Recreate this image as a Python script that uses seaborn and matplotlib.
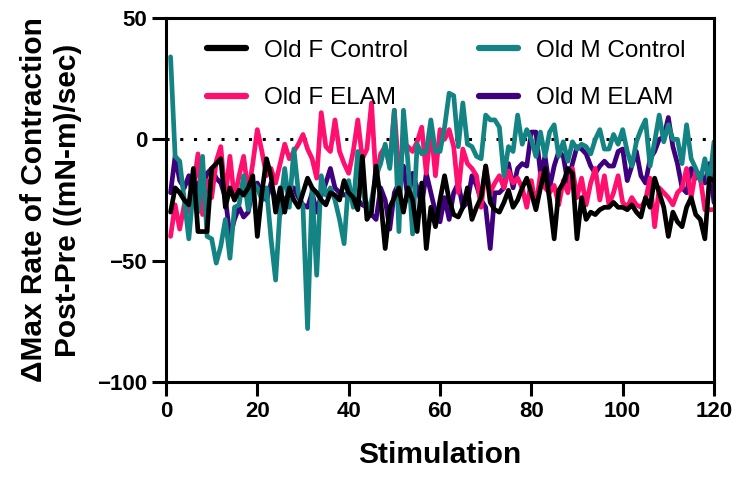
import pandas as pd
import matplotlib
matplotlib.use('Agg')
import matplotlib.pyplot as plt
import numpy as np
import seaborn as sns

stim = list(range(1, 121))

old_f_control = [-30, -20, -22, -25, -27, -12, -38, -38, -38, -12,
                 -10, -8, -28, -20, -25, -21, -23, -20, -15, -40,
                 -22, -8, -15, -30, -20, -30, -20, -25, -28, -22,
                 -16, -20, -22, -25, -27, -22, -23, -25, -17, -22,
                 -24, -29, -7, -33, -30, -11, -25, -45, -28, -24,
                 -20, -30, -20, -25, -38, -18, -45, -28, -36, -25,
                 -15, -25, -31, -32, -28, -20, -33, -28, -24, -11,
                 -26, -29, -30, -26, -21, -28, -25, -20, -16, -22,
                 -29, -20, -12, -25, -41, -21, -18, -12, -14, -41,
                 -24, -33, -30, -31, -29, -28, -28, -26, -28, -28,
                 -29, -27, -30, -32, -24, -28, -16, -22, -28, -40,
                 -30, -34, -36, -28, -24, -31, -33, -41, -16, -17]

old_f_elam = [-40, -27, -37, -27, -30, -20, -6, -31, -17, -24,
              -9, -3, -24, -7, -25, -15, -7, -22, -10, 4,
              -5, -15, -12, -18, -10, -2, -8, -5, -2, 2,
              -4, -8, -16, 11, -3, -5, 8, -5, -10, -14,
              -5, 8, -8, -4, 15, -17, -6, -3, -11, 12,
              -14, -2, -3, -5, -1, 5, -14, 5, -15, 4,
              0, 4, -3, -22, -4, -10, -12, -15, -28, -11,
              -22, -18, -15, -20, -13, -18, -16, -20, -28, -17,
              -28, -14, -20, -22, -19, -27, -17, -22, -12, -24,
              -16, -27, -18, -12, -25, -15, -27, -22, -15, -26,
              -28, -24, -27, -28, -25, -16, -36, -20, -22, -24,
              -27, -22, -20, -12, -24, -13, -16, -29, -29, -29]

old_m_control = [34, -7, -9, -25, -41, -20, -30, -7, -40, -41,
                 -51, -44, -33, -49, -28, -27, -15, -29, -18, -20,
                 -25, -20, -41, -58, -28, -12, -28, -4, -22, -28,
                 -78, -20, -56, -15, -23, -20, -25, -33, -43, -17,
                 -28, -5, -20, -30, -25, -15, -10, -2, -12, 12,
                 -38, 12, -10, -39, -2, -6, -5, 8, -5, -5,
                 5, 19, 18, -3, 15, -2, -3, -7, -8, 10,
                 8, 8, 5, -15, -3, -5, 10, -2, 4, 0,
                 -7, 3, -7, 3, 6, -7, -1, -9, -1, -4,
                 -2, -3, -6, 0, 4, -4, -4, 2, -2, 4,
                 -5, -11, -1, 4, 8, -11, -1, 10, -1, 6,
                 0, 0, -10, 6, -8, -12, -17, -8, -18, -1]

old_m_elam = [-22, -7, -17, -20, -15, -25, -18, -20, -14, -12,
              -16, -18, -24, -40, -33, -28, -32, -30, -20, -18,
              -22, -25, -18, -25, -31, -25, -22, -20, -24, -27,
              -28, -22, -30, -23, -18, -12, -20, -22, -23, -22,
              -24, -25, -27, -28, -31, -33, -20, -25, -37, -22,
              -18, -11, -25, -14, -20, -27, -14, -22, -30, -34,
              -24, -33, -22, -18, -28, -26, -15, -19, -25, -28,
              -45, -22, -22, -20, -10, -20, -12, -10, -11, 3,
              3, -14, -7, -20, -11, -5, -7, -18, -10, -3,
              -4, -6, -11, -14, -11, -9, -11, -11, -5, -4,
              -17, -11, -5, -15, -18, -8, -5, 0, 1, 9,
              -3, -10, -20, -22, -12, -16, -14, -18, -10, -26]

names = ['Old F Control', 'Old F ELAM', 'Old M Control', 'Old M ELAM']
colors = {'Old F Control': '#000000', 'Old F ELAM': '#FF0F6E',
          'Old M Control': '#138483', 'Old M ELAM': '#3F007D'}

df = pd.DataFrame({'Stimulation': stim * 4,
                   'value': old_f_control + old_f_elam + old_m_control + old_m_elam,
                   'group': [n for n in names for _ in stim]})

sns.set_style('ticks')
plt.rcParams['font.family'] = ['Liberation Sans', 'DejaVu Sans']

fig = plt.figure(figsize=(7.53, 4.8), dpi=100)
ax = fig.add_axes([166/753, 1-382/480, 548/753, 364/480])

ax.axhline(0, color='black', linestyle=(0, (1, 3.5)), linewidth=2.2, zorder=1)

draw_order = ['Old M ELAM', 'Old F ELAM', 'Old M Control', 'Old F Control']
sns.lineplot(data=df, x='Stimulation', y='value', hue='group', hue_order=draw_order,
             palette=colors, linewidth=3.4, ax=ax, legend=False, zorder=2)

ax.set_xlim(0, 120)
ax.set_ylim(-100, 50)
ax.set_xticks([0, 20, 40, 60, 80, 100, 120])
ax.set_yticks([-100, -50, 0, 50])
ax.set_xlabel('Stimulation', fontsize=21.5, fontweight='bold', color='black', labelpad=14)
ax.set_ylabel('ΔMax Rate of Contraction\nPost-Pre ((mN-m)/sec)', fontsize=21.5,
              fontweight='bold', linespacing=1.25, color='black', labelpad=11)
for lab in ax.get_xticklabels() + ax.get_yticklabels():
    lab.set_fontweight('bold')
ax.tick_params(labelsize=16, width=2.2, length=10, color='black', labelcolor='black',
               direction='out')
for s in ax.spines.values():
    s.set_linewidth(2.2)
    s.set_color('black')

handles = [plt.Line2D([], [], color=colors[n], linewidth=4.5) for n in names]
ax.legend(handles, names, ncol=2, frameon=False, fontsize=17.5, loc='upper left',
          bbox_to_anchor=(0.035, 1.0), handlelength=1.6, handletextpad=0.75,
          columnspacing=2.9, labelspacing=1.05, labelcolor='black')

fig.savefig('out.png', dpi=100)
